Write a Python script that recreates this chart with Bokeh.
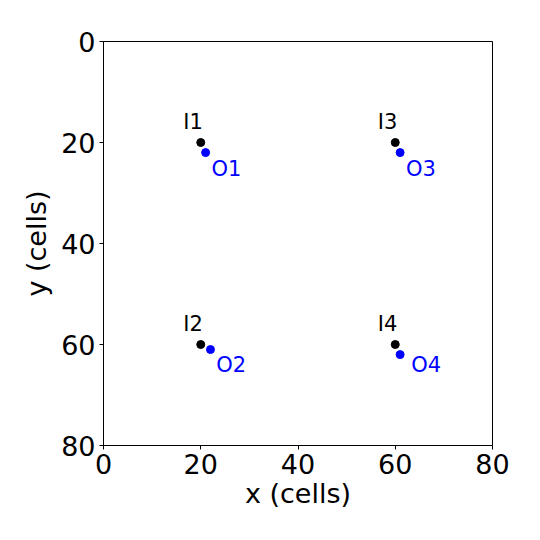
from bokeh.plotting import figure
from bokeh.models import Range1d, FixedTicker, ColumnDataSource
from bokeh.embed import file_html
from bokeh.resources import INLINE
from bokeh.core.properties import value

in_names = ["I1", "I2", "I3", "I4"]
in_x = [20, 20, 60, 60]
in_y = [20, 60, 20, 60]
out_names = ["O1", "O2", "O3", "O4"]
out_x = [21, 22, 61, 61]
out_y = [22, 61, 22, 62]
# label anchor positions (data units, left edge / baseline)
in_label_x = [16.4, 16.4, 56.4, 56.4]
in_label_y = [17.5, 57.5, 17.5, 57.5]
out_label_x = [22.2, 23.2, 62.2, 63.3]
out_label_y = [26.9, 65.7, 26.9, 65.7]
ticks = [0, 20, 40, 60, 80]

FONT = "DejaVu Sans"

p = figure(width=540, height=540, output_backend="svg", toolbar_location=None,
           x_range=Range1d(0, 80), y_range=Range1d(80, 0),
           min_border_left=103, min_border_top=41, min_border_right=48, min_border_bottom=95,
           frame_width=389, frame_height=404)
p.grid.visible = False
p.outline_line_color = "black"
p.outline_line_width = 1
p.background_fill_color = "white"
p.border_fill_color = "white"

for ax in (p.xaxis[0], p.yaxis[0]):
    ax.ticker = FixedTicker(ticks=ticks)
    ax.minor_tick_line_color = None
    ax.major_tick_in = 0
    ax.major_tick_out = 4
    ax.major_label_text_font = FONT
    ax.major_label_text_font_size = "27px"
    ax.major_label_text_color = "black"
    ax.axis_label_text_font = FONT
    ax.axis_label_text_font_size = "27px"
    ax.axis_label_text_font_style = "normal"
    ax.axis_label_text_color = "black"
    ax.axis_line_color = "black"
p.xaxis.axis_label = "x (cells)"
p.yaxis.axis_label = "y (cells)"
p.xaxis.axis_label_standoff = 1
p.yaxis.axis_label_standoff = 6
p.xaxis.major_label_standoff = 4
p.yaxis.major_label_standoff = 4

src_in = ColumnDataSource(dict(x=in_x, y=in_y))
src_out = ColumnDataSource(dict(x=out_x, y=out_y))
lab_in = ColumnDataSource(dict(x=in_label_x, y=in_label_y, name=in_names))
lab_out = ColumnDataSource(dict(x=out_label_x, y=out_label_y, name=out_names))

p.scatter("x", "y", source=src_in, size=8, color="black")
p.scatter("x", "y", source=src_out, size=8, color="blue")

p.text("x", "y", text="name", source=lab_in, y_offset=-8,
       text_font=value(FONT), text_font_size="21px", text_color="black",
       text_align="left", text_baseline="alphabetic")
p.text("x", "y", text="name", source=lab_out, y_offset=-8,
       text_font=value(FONT), text_font_size="21px", text_color="blue",
       text_align="left", text_baseline="alphabetic")

open("out.html", "w").write(file_html(p, INLINE))
